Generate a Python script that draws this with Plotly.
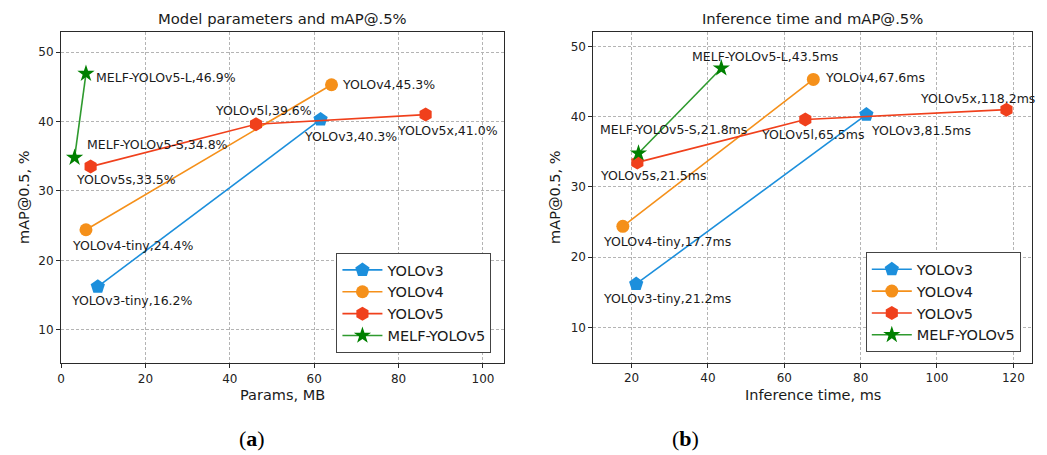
import plotly.graph_objects as go

# ---------------- data ----------------
series = ["YOLOv3", "YOLOv4", "YOLOv5", "MELF-YOLOv5"]
labels = {
    "YOLOv3": ["YOLOv3-tiny", "YOLOv3"],
    "YOLOv4": ["YOLOv4-tiny", "YOLOv4"],
    "YOLOv5": ["YOLOv5s", "YOLOv5l", "YOLOv5x"],
    "MELF-YOLOv5": ["MELF-YOLOv5-S", "MELF-YOLOv5-L"],
}
params_mb = {
    "YOLOv3": [8.7, 61.5],
    "YOLOv4": [5.9, 64.1],
    "YOLOv5": [7.0, 46.2, 86.4],
    "MELF-YOLOv5": [3.2, 5.9],
}
infer_ms = {
    "YOLOv3": [21.2, 81.5],
    "YOLOv4": [17.7, 67.6],
    "YOLOv5": [21.5, 65.5, 118.2],
    "MELF-YOLOv5": [21.8, 43.5],
}
map50 = {
    "YOLOv3": [16.2, 40.3],
    "YOLOv4": [24.4, 45.3],
    "YOLOv5": [33.5, 39.6, 41.0],
    "MELF-YOLOv5": [34.8, 46.9],
}
x_ticks_a = [0, 20, 40, 60, 80, 100]
x_ticks_b = [20, 40, 60, 80, 100, 120]
y_ticks = [10, 20, 30, 40, 50]

# ---------------- styles ----------------
line_col = {"YOLOv3": "#1c8fdc", "YOLOv4": "#f5901a", "YOLOv5": "#f0401c", "MELF-YOLOv5": "#2e9a2e"}
mk_col = {"YOLOv3": "#1c8fdc", "YOLOv4": "#f5901a", "YOLOv5": "#f0401c", "MELF-YOLOv5": "#008000"}
symbols = {"YOLOv3": "pentagon", "YOLOv4": "circle", "YOLOv5": "hexagon", "MELF-YOLOv5": "star"}
msize = {"YOLOv3": 15, "YOLOv4": 13, "YOLOv5": 14, "MELF-YOLOv5": 13}

# label pixel offsets (left edge of text relative to marker, vertical shift)
off_a = {
    "YOLOv3-tiny": (-28.6, -14), "YOLOv3": (-19, -17),
    "YOLOv4-tiny": (-16.3, -15.7), "YOLOv4": (8.4, 0.7),
    "YOLOv5s": (-16.7, -13), "YOLOv5l": (-42.7, 14), "YOLOv5x": (-31, -16.4),
    "MELF-YOLOv5-S": (10, 13), "MELF-YOLOv5-L": (8.4, -4.3),
}
off_b = {
    "YOLOv3-tiny": (-35.4, -14.4), "YOLOv3": (2.6, -15.7),
    "YOLOv4-tiny": (-22, -15.6), "YOLOv4": (9.6, 2.3),
    "YOLOv5s": (-39, -13), "YOLOv5l": (-46.7, -15), "YOLOv5x": (-88.3, 11),
    "MELF-YOLOv5-S": (-40, 23.3), "MELF-YOLOv5-L": (-31.7, 11.6),
}

W, H = 1047, 455
FONT = "DejaVu Sans, Verdana, sans-serif"

fig = go.Figure()
annotations = []

for s in series:
    fig.add_trace(go.Scatter(
        x=params_mb[s], y=map50[s], mode="lines+markers", name=s,
        xaxis="x", yaxis="y", legend="legend", legendgroup="a" + s,
        line=dict(color=line_col[s], width=1.6),
        marker=dict(symbol=symbols[s], size=msize[s], color=mk_col[s], line=dict(width=0)),
    ))
for s in series:
    fig.add_trace(go.Scatter(
        x=infer_ms[s], y=map50[s], mode="lines+markers", name=s,
        xaxis="x2", yaxis="y2", legend="legend2", legendgroup="b" + s,
        line=dict(color=line_col[s], width=1.6),
        marker=dict(symbol=symbols[s], size=msize[s], color=mk_col[s], line=dict(width=0)),
    ))

for s in series:
    for lab, xa, xb, yv in zip(labels[s], params_mb[s], infer_ms[s], map50[s]):
        dx, dy = off_a[lab]
        annotations.append(dict(
            x=xa, y=yv, xref="x", yref="y", text=f"{lab},{yv:.1f}%", showarrow=False,
            xanchor="left", yanchor="middle", xshift=dx, yshift=dy,
            font=dict(family=FONT, size=12.5, color="#1a1a1a"),
        ))
        dx, dy = off_b[lab]
        annotations.append(dict(
            x=xb, y=yv, xref="x2", yref="y2", text=f"{lab},{xb:.1f}ms", showarrow=False,
            xanchor="left", yanchor="middle", xshift=dx, yshift=dy,
            font=dict(family=FONT, size=12.5, color="#1a1a1a"),
        ))

def px(x):
    return x / W

def py(y):
    return 1 - y / H

# titles, axis titles, captions
texts = [
    ("Model parameters and mAP@.5%", 279.3, 19, 0, 14.8, FONT),
    ("Inference time and mAP@.5%", 812, 19, 0, 14.8, FONT),
    ("Params, MB", 279.3, 395, 0, 14.5, FONT),
    ("Inference time, ms", 811.8, 395, 0, 14.5, FONT),
    ("mAP@0.5, %", 20, 197, -90, 14.5, FONT),
    ("mAP@0.5, %", 553, 197, -90, 14.5, FONT),
]
for t, x, y, ang, sz, fam in texts:
    annotations.append(dict(
        x=px(x), y=py(y), xref="paper", yref="paper", text=t, showarrow=False,
        xanchor="center", yanchor="middle", textangle=ang,
        font=dict(family=fam, size=sz, color="#1a1a1a"),
    ))
for t, x in [("(<b>a</b>)", 249), ("(<b>b</b>)", 683.7)]:
    annotations.append(dict(
        x=px(x), y=py(438), xref="paper", yref="paper", text=t, showarrow=False,
        xanchor="center", yanchor="middle",
        font=dict(family="Liberation Serif, Times New Roman, serif", size=22, color="#000"),
    ))

axis_common = dict(
    showline=True, mirror=True, linecolor="#2a2a2a", linewidth=1.2,
    showgrid=True, gridcolor="#b4b4b4", gridwidth=0.8, griddash="3px,2px",
    zeroline=False, ticks="outside", ticklen=4, tickcolor="#2a2a2a",
    tickfont=dict(family=FONT, size=12, color="#222"),
)

legend_common = dict(
    xanchor="right", yanchor="bottom",
    bgcolor="white", bordercolor="#444", borderwidth=1,
    font=dict(family=FONT, size=14.5, color="#1a1a1a"),
    tracegroupgap=0, itemwidth=40,
)

fig.update_layout(
    width=W, height=H,
    margin=dict(l=0, r=0, t=0, b=0),
    paper_bgcolor="white", plot_bgcolor="white",
    font=dict(family=FONT),
    xaxis=dict(domain=[px(57.3), px(502)], range=[0, 105], tickvals=x_ticks_a, anchor="y", **axis_common),
    yaxis=dict(domain=[py(363), py(32)], range=[5.2, 52.9], tickvals=y_ticks, anchor="x", **axis_common),
    xaxis2=dict(domain=[px(591.7), px(1032)], range=[10, 124.9], tickvals=x_ticks_b, anchor="y2", **axis_common),
    yaxis2=dict(domain=[py(362.7), py(32)], range=[5.0, 52.05], tickvals=y_ticks, anchor="x2", **axis_common),
    legend=dict(x=px(489.3), y=py(353), **legend_common),
    legend2=dict(x=px(1020.7), y=py(352.3), **legend_common),
    annotations=annotations,
    showlegend=True,
)

fig.write_html(
    "out.html",
    config={"displayModeBar": False},
    post_script="document.body.style.margin='0px';document.body.style.padding='0px';"
                "document.documentElement.style.overflow='hidden';",
)
